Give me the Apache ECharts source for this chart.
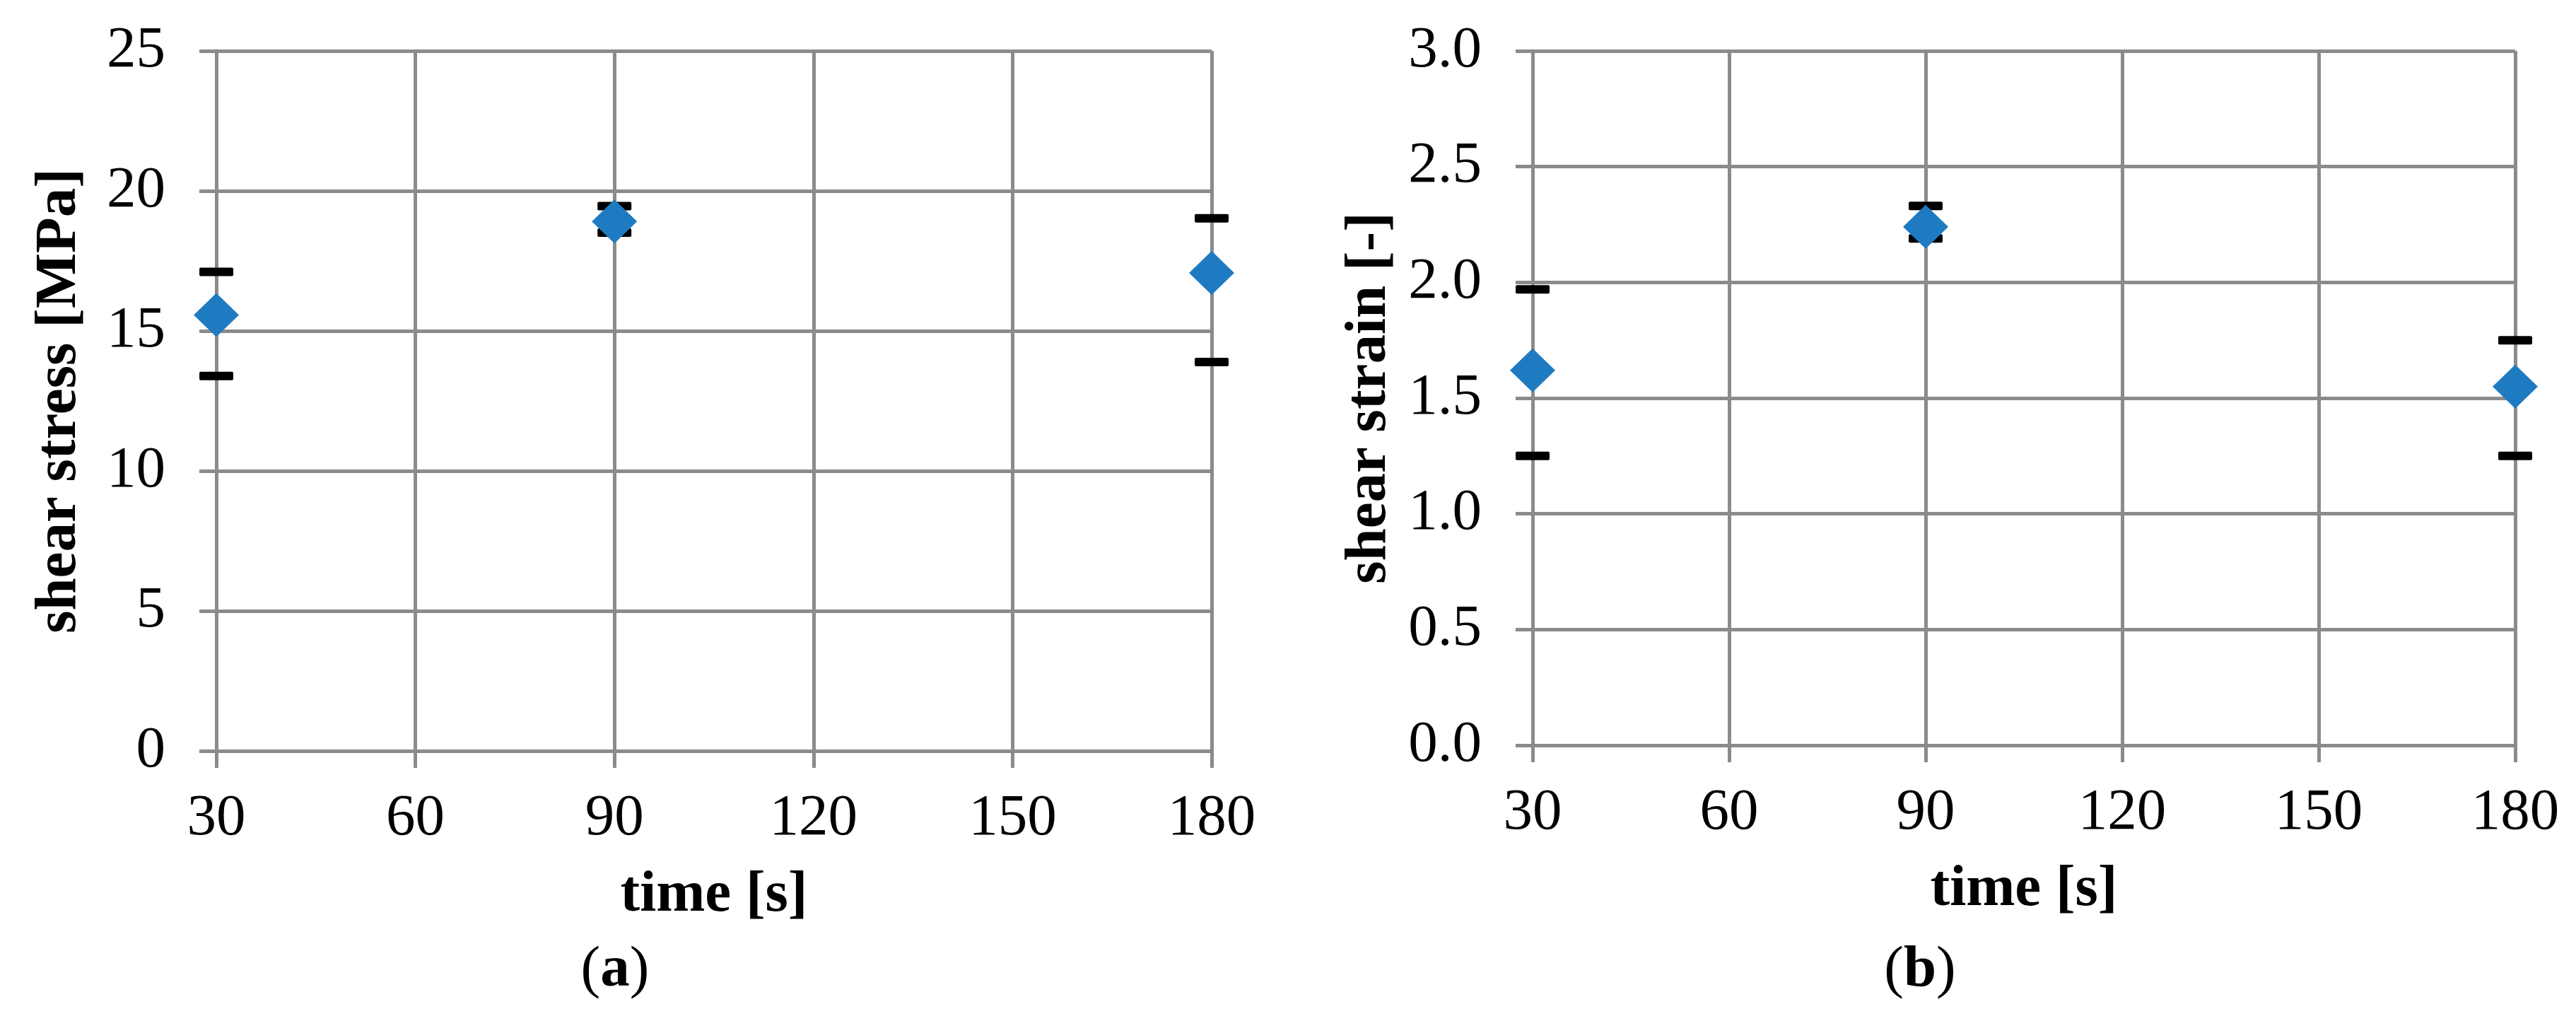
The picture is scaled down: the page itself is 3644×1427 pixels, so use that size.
<!DOCTYPE html>
<html>
<head>
<meta charset="utf-8">
<script src="https://cdn.jsdelivr.net/npm/echarts@6/dist/echarts.min.js"></script>
<style>
  html, body { margin: 0; padding: 0; background: #fff; }
  #main { width: 3644px; height: 1427px; }
</style>
</head>
<body>
<div id="main"></div>
<script>
// data
var times = [30, 90, 180];

// (a) shear stress [MPa]
var stressMean  = [15.57, 18.91, 17.07];
var stressUpper = [17.11, 19.46, 19.02];
var stressLower = [13.39, 18.51, 13.89];

// (b) shear strain [-]
var strainMean  = [1.62, 2.24, 1.55];
var strainUpper = [1.97, 2.33, 1.75];
var strainLower = [1.25, 2.19, 1.25];

var FONT = 'Liberation Serif';
var FS = 83;
var GRAY = '#8b8b8b';
var BLUE = '#1f7bc1';

function zip(a, b) {
    var out = [];
    for (var i = 0; i < a.length; i++) out.push([a[i], b[i]]);
    return out;
}
function errData(lo, hi) {
    var out = [];
    for (var i = 0; i < times.length; i++) out.push([times[i], lo[i], hi[i]]);
    return out;
}

// only the caps of the error bars are visible in the picture
function renderCaps(params, api) {
    var x = api.value(0);
    var pLo = api.coord([x, api.value(1)]);
    var pHi = api.coord([x, api.value(2)]);
    var w = 48, h = 12;
    var st = { fill: '#000' };
    return {
        type: 'group',
        children: [
            { type: 'rect', shape: { x: pLo[0] - w / 2, y: pLo[1] - h / 2, width: w, height: h, r: 2 }, style: st },
            { type: 'rect', shape: { x: pHi[0] - w / 2, y: pHi[1] - h / 2, width: w, height: h, r: 2 }, style: st }
        ]
    };
}

function xAxisOpt(gridIndex) {
    return {
        type: 'value',
        gridIndex: gridIndex,
        min: 30, max: 180, interval: 30,
        name: 'time [s]',
        nameLocation: 'middle',
        nameGap: 163,
        nameTextStyle: { fontFamily: FONT, fontSize: FS, fontWeight: 'bold', color: '#000' },
        axisLine: { show: true, lineStyle: { color: GRAY, width: 5 } },
        axisTick: { show: true, inside: false, length: 24, lineStyle: { color: GRAY, width: 5 } },
        axisLabel: { fontFamily: FONT, fontSize: FS, color: '#000', margin: 55 },
        splitLine: { show: true, lineStyle: { color: GRAY, width: 5 } }
    };
}

function yAxisOpt(gridIndex, name, max, interval, gap, fmt) {
    return {
        type: 'value',
        gridIndex: gridIndex,
        min: 0, max: max, interval: interval,
        name: name,
        nameLocation: 'middle',
        nameGap: gap,
        nameTextStyle: { fontFamily: FONT, fontSize: FS, fontWeight: 'bold', color: '#000' },
        axisLine: { show: true, lineStyle: { color: GRAY, width: 5 } },
        axisTick: { show: true, inside: false, length: 24, lineStyle: { color: GRAY, width: 5 } },
        axisLabel: { fontFamily: FONT, fontSize: FS, color: '#000', margin: 72, formatter: fmt },
        splitLine: { show: true, lineStyle: { color: GRAY, width: 5 } }
    };
}

var chart = echarts.init(document.getElementById('main'));

var option = {
    backgroundColor: '#fff',
    animation: false,
    grid: [
        { left: 306, top: 72, width: 1408, height: 990 },
        { left: 2168, top: 72, width: 1390, height: 982 }
    ],
    xAxis: [xAxisOpt(0), xAxisOpt(1)],
    yAxis: [
        yAxisOpt(0, 'shear stress [MPa]', 25, 5, 180, function (v) { return String(v); }),
        yAxisOpt(1, 'shear strain [-]', 3, 0.5, 189, function (v) { return v.toFixed(1); })
    ],
    series: [
        {
            type: 'custom', xAxisIndex: 0, yAxisIndex: 0, z: 3,
            renderItem: renderCaps, data: errData(stressLower, stressUpper)
        },
        {
            type: 'scatter', xAxisIndex: 0, yAxisIndex: 0, z: 5,
            symbol: 'diamond', symbolSize: [64, 62],
            itemStyle: { color: BLUE, opacity: 1 },
            data: zip(times, stressMean)
        },
        {
            type: 'custom', xAxisIndex: 1, yAxisIndex: 1, z: 3,
            renderItem: renderCaps, data: errData(strainLower, strainUpper)
        },
        {
            type: 'scatter', xAxisIndex: 1, yAxisIndex: 1, z: 5,
            symbol: 'diamond', symbolSize: [64, 62],
            itemStyle: { color: BLUE, opacity: 1 },
            data: zip(times, strainMean)
        }
    ],
    graphic: [
        {
            type: 'text', x: 870, y: 1373,
            style: {
                text: '({b|a})', fontFamily: FONT, fontSize: FS, fill: '#000',
                align: 'center', verticalAlign: 'middle',
                rich: { b: { fontFamily: FONT, fontSize: FS, fontWeight: 'bold', fill: '#000' } }
            }
        },
        {
            type: 'text', x: 2716, y: 1373,
            style: {
                text: '({b|b})', fontFamily: FONT, fontSize: FS, fill: '#000',
                align: 'center', verticalAlign: 'middle',
                rich: { b: { fontFamily: FONT, fontSize: FS, fontWeight: 'bold', fill: '#000' } }
            }
        }
    ]
};

chart.setOption(option);
</script>
</body>
</html>
